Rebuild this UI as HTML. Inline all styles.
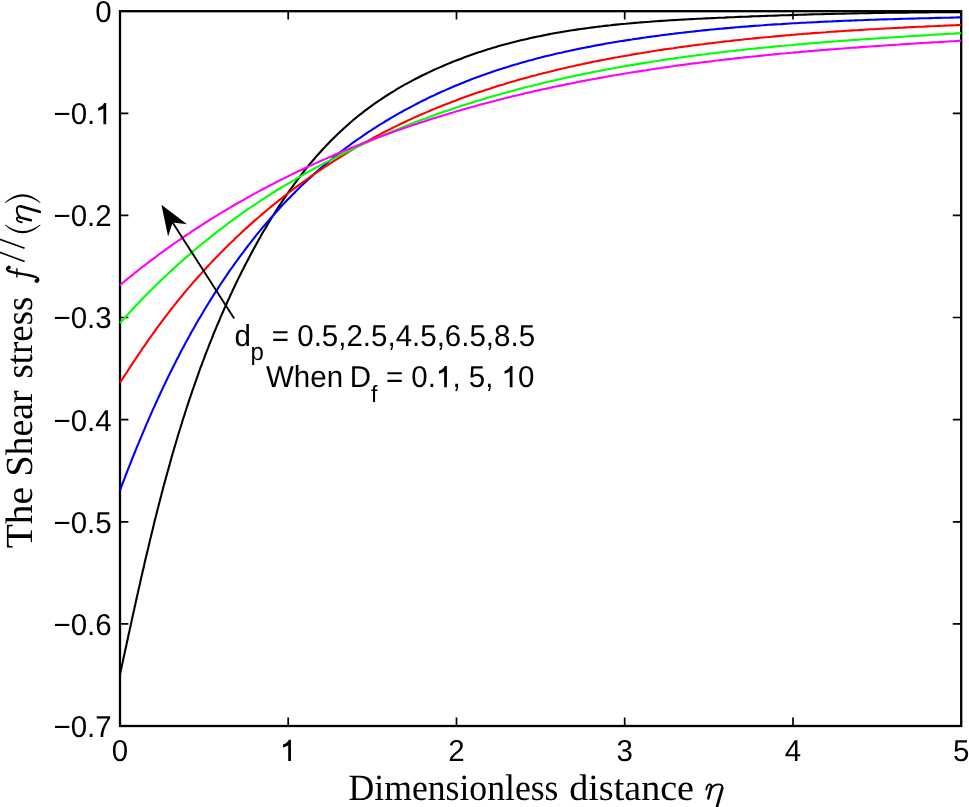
<!DOCTYPE html>
<html><head><meta charset="utf-8"><style>
html,body{margin:0;padding:0;background:#fff;overflow:hidden;}
svg{display:block;text-rendering:geometricPrecision;will-change:transform;}
.s{font-family:"Liberation Sans",sans-serif;fill:#000;}
.lab{font-family:"Liberation Serif",serif;fill:#000;}
</style></head><body>
<svg width="969" height="807" viewBox="0 0 969 807">
<rect x="0" y="0" width="969" height="807" fill="#fff"/>
<path d="M288.2,726.0 V717.6 M288.2,11.2 V19.6 M456.5,726.0 V717.6 M456.5,11.2 V19.6 M624.7,726.0 V717.6 M624.7,11.2 V19.6 M793.0,726.0 V717.6 M793.0,11.2 V19.6 M120.0,113.3 H128.4 M961.2,113.3 H952.8 M120.0,215.4 H128.4 M961.2,215.4 H952.8 M120.0,317.5 H128.4 M961.2,317.5 H952.8 M120.0,419.7 H128.4 M961.2,419.7 H952.8 M120.0,521.8 H128.4 M961.2,521.8 H952.8 M120.0,623.9 H128.4 M961.2,623.9 H952.8" stroke="#000" stroke-width="1.7" fill="none"/>
<rect x="120.0" y="11.2" width="841.2" height="714.8" fill="none" stroke="#000" stroke-width="2.3"/>
<g fill="none" stroke-width="2.1" stroke-linejoin="round">
<path d="M120.0,674.2 L120.6,671.3 L121.3,668.4 L121.9,665.5 L122.6,662.5 L123.2,659.6 L123.8,656.7 L124.5,653.7 L125.1,650.8 L125.7,647.9 L126.4,644.9 L127.0,642.0 L127.7,639.1 L128.3,636.1 L128.9,633.2 L129.6,630.3 L130.2,627.3 L130.9,624.4 L131.5,621.5 L132.1,618.6 L132.8,615.6 L133.4,612.7 L134.1,609.8 L134.7,606.8 L135.4,603.9 L136.0,601.0 L136.7,598.1 L137.3,595.1 L138.0,592.2 L138.6,589.3 L139.3,586.4 L140.0,583.4 L140.6,580.5 L141.3,577.6 L141.9,574.7 L142.6,571.7 L143.3,568.8 L144.0,565.9 L144.6,563.0 L145.3,560.0 L146.0,557.1 L146.7,554.2 L147.4,551.3 L148.1,548.4 L148.8,545.5 L149.5,542.5 L150.1,539.6 L150.9,536.7 L151.6,533.8 L152.3,530.9 L153.0,528.0 L153.7,525.1 L154.4,522.1 L155.1,519.2 L155.9,516.3 L156.6,513.4 L157.3,510.5 L158.1,507.6 L158.8,504.7 L159.6,501.8 L160.3,498.9 L161.1,496.0 L161.8,493.1 L162.6,490.2 L163.3,487.3 L164.1,484.4 L164.9,481.5 L165.7,478.6 L166.5,475.7 L167.3,472.8 L168.1,470.0 L168.9,467.1 L169.7,464.2 L170.5,461.3 L171.3,458.4 L172.1,455.5 L172.9,452.7 L173.8,449.8 L174.6,446.9 L175.5,444.0 L176.3,441.2 L177.2,438.3 L178.0,435.4 L178.9,432.5 L179.8,429.7 L180.7,426.8 L181.6,424.0 L182.4,421.1 L183.3,418.2 L184.3,415.4 L185.2,412.5 L186.1,409.7 L187.0,406.8 L187.9,404.0 L188.9,401.2 L189.8,398.3 L190.8,395.5 L191.8,392.6 L192.7,389.8 L193.7,387.0 L194.7,384.1 L195.7,381.3 L196.7,378.5 L197.7,375.7 L198.7,372.9 L199.7,370.0 L200.7,367.2 L201.8,364.4 L202.8,361.6 L203.9,358.8 L204.9,356.0 L206.0,353.2 L207.1,350.4 L208.2,347.6 L209.2,344.8 L210.3,342.1 L211.5,339.3 L212.6,336.5 L213.7,333.7 L214.8,331.0 L216.0,328.2 L217.1,325.4 L218.3,322.7 L219.5,319.9 L220.6,317.2 L221.8,314.4 L223.0,311.7 L224.2,308.9 L225.5,306.2 L226.7,303.5 L227.9,300.7 L229.2,298.0 L230.4,295.3 L231.7,292.6 L232.9,289.9 L234.2,287.2 L235.5,284.5 L236.8,281.8 L238.1,279.1 L239.4,276.4 L240.8,273.7 L242.1,271.0 L243.5,268.4 L244.8,265.7 L246.2,263.0 L247.6,260.4 L249.0,257.7 L250.4,255.1 L251.8,252.4 L253.2,249.8 L254.6,247.2 L256.1,244.6 L257.5,241.9 L259.0,239.3 L260.5,236.7 L261.9,234.1 L263.4,231.5 L265.0,229.0 L266.5,226.4 L268.0,223.8 L269.6,221.3 L271.1,218.7 L272.7,216.2 L274.3,213.6 L275.9,211.1 L277.5,208.6 L279.1,206.1 L280.8,203.6 L282.4,201.1 L284.1,198.6 L285.8,196.1 L287.5,193.7 L289.2,191.2 L290.9,188.8 L292.7,186.3 L294.4,183.9 L296.2,181.5 L298.0,179.1 L299.8,176.8 L301.6,174.4 L303.5,172.0 L305.3,169.7 L307.2,167.4 L309.1,165.0 L311.0,162.7 L312.9,160.5 L314.9,158.2 L316.8,155.9 L318.8,153.7 L320.8,151.5 L322.8,149.3 L324.9,147.1 L326.9,144.9 L329.0,142.7 L331.1,140.6 L333.2,138.5 L335.3,136.4 L337.5,134.3 L339.6,132.2 L341.8,130.2 L344.0,128.2 L346.2,126.2 L348.5,124.2 L350.7,122.2 L353.0,120.3 L355.3,118.4 L357.6,116.5 L360.0,114.6 L362.3,112.8 L364.7,110.9 L367.1,109.1 L369.5,107.4 L371.9,105.6 L374.3,103.9 L376.8,102.2 L379.3,100.5 L381.7,98.8 L384.2,97.1 L386.8,95.5 L389.3,93.9 L391.8,92.3 L394.4,90.8 L396.9,89.2 L399.5,87.7 L402.1,86.2 L404.7,84.7 L407.3,83.3 L410.0,81.8 L412.6,80.4 L415.3,79.0 L417.9,77.7 L420.6,76.3 L423.3,75.0 L426.0,73.7 L428.7,72.4 L431.4,71.1 L434.1,69.8 L436.8,68.6 L439.6,67.4 L442.3,66.2 L445.1,65.0 L447.8,63.9 L450.6,62.7 L453.4,61.6 L456.2,60.5 L459.0,59.4 L461.8,58.4 L464.6,57.3 L467.4,56.3 L470.2,55.3 L473.0,54.3 L475.9,53.3 L478.7,52.3 L481.6,51.4 L484.4,50.5 L487.3,49.6 L490.1,48.7 L493.0,47.8 L495.9,47.0 L498.8,46.1 L501.6,45.3 L504.5,44.5 L507.4,43.7 L510.3,43.0 L513.2,42.2 L516.1,41.5 L519.0,40.8 L522.0,40.1 L524.9,39.4 L527.8,38.7 L530.7,38.0 L533.7,37.4 L536.6,36.8 L539.5,36.2 L542.5,35.6 L545.4,35.0 L548.3,34.4 L551.3,33.8 L554.2,33.3 L557.2,32.8 L560.2,32.3 L563.1,31.8 L566.1,31.3 L569.0,30.8 L572.0,30.3 L575.0,29.9 L577.9,29.4 L580.9,29.0 L583.9,28.6 L586.8,28.2 L589.8,27.8 L592.8,27.4 L595.8,27.0 L598.7,26.6 L601.7,26.3 L604.7,25.9 L607.7,25.6 L610.6,25.3 L613.6,24.9 L616.6,24.6 L619.6,24.3 L622.6,24.0 L625.6,23.8 L628.6,23.5 L631.5,23.2 L634.5,22.9 L637.5,22.7 L640.5,22.4 L643.5,22.2 L646.5,22.0 L649.5,21.8 L652.5,21.5 L655.5,21.3 L658.5,21.1 L661.5,20.9 L664.4,20.7 L667.4,20.5 L670.4,20.3 L673.4,20.1 L676.4,20.0 L679.4,19.8 L682.4,19.6 L685.4,19.5 L688.4,19.3 L691.4,19.1 L694.4,19.0 L697.4,18.8 L700.4,18.7 L703.4,18.5 L706.4,18.4 L709.4,18.3 L712.4,18.1 L715.4,18.0 L718.4,17.8 L721.4,17.7 L724.4,17.6 L727.4,17.4 L730.4,17.3 L733.4,17.2 L736.4,17.0 L739.3,16.9 L742.3,16.8 L745.3,16.7 L748.3,16.6 L751.3,16.4 L754.3,16.3 L757.3,16.2 L760.3,16.1 L763.3,16.0 L766.3,15.9 L769.3,15.8 L772.3,15.7 L775.3,15.6 L778.3,15.5 L781.3,15.3 L784.3,15.2 L787.3,15.2 L790.3,15.1 L793.3,15.0 L796.3,14.9 L799.3,14.8 L802.3,14.7 L805.3,14.6 L808.3,14.5 L811.3,14.4 L814.3,14.3 L817.3,14.3 L820.3,14.2 L823.3,14.1 L826.3,14.0 L829.3,14.0 L832.3,13.9 L835.3,13.8 L838.3,13.7 L841.3,13.7 L844.3,13.6 L847.3,13.5 L850.3,13.5 L853.3,13.4 L856.3,13.4 L859.3,13.3 L862.3,13.2 L865.3,13.2 L868.3,13.1 L871.3,13.1 L874.3,13.0 L877.3,13.0 L880.3,12.9 L883.3,12.9 L886.3,12.8 L889.3,12.8 L892.3,12.8 L895.3,12.7 L898.3,12.7 L901.3,12.6 L904.3,12.6 L907.3,12.6 L910.3,12.5 L913.3,12.5 L916.3,12.5 L919.3,12.4 L922.3,12.4 L925.3,12.4 L928.3,12.4 L931.3,12.3 L934.3,12.3 L937.3,12.3 L940.3,12.3 L943.3,12.3 L946.3,12.2 L949.3,12.2 L952.3,12.2 L955.3,12.2 L958.3,12.2 L961.2,12.2" stroke="#000"/>
<path d="M120.0,490.3 L121.1,487.5 L122.1,484.7 L123.2,481.9 L124.3,479.1 L125.3,476.3 L126.4,473.5 L127.5,470.7 L128.6,467.9 L129.7,465.1 L130.8,462.3 L131.9,459.5 L133.0,456.7 L134.1,454.0 L135.3,451.2 L136.4,448.4 L137.5,445.6 L138.7,442.9 L139.8,440.1 L141.0,437.3 L142.1,434.6 L143.3,431.8 L144.5,429.1 L145.6,426.3 L146.8,423.6 L148.0,420.8 L149.2,418.1 L150.4,415.3 L151.6,412.6 L152.8,409.8 L154.1,407.1 L155.3,404.4 L156.5,401.7 L157.8,398.9 L159.0,396.2 L160.3,393.5 L161.6,390.8 L162.8,388.1 L164.1,385.4 L165.4,382.7 L166.7,380.0 L168.0,377.3 L169.3,374.6 L170.6,371.9 L172.0,369.2 L173.3,366.5 L174.7,363.9 L176.0,361.2 L177.4,358.5 L178.8,355.9 L180.1,353.2 L181.5,350.6 L182.9,347.9 L184.3,345.3 L185.8,342.6 L187.2,340.0 L188.6,337.4 L190.1,334.8 L191.5,332.1 L193.0,329.5 L194.5,326.9 L195.9,324.3 L197.4,321.7 L198.9,319.1 L200.5,316.6 L202.0,314.0 L203.5,311.4 L205.1,308.8 L206.6,306.3 L208.2,303.7 L209.7,301.2 L211.3,298.6 L212.9,296.1 L214.5,293.6 L216.1,291.1 L217.8,288.6 L219.4,286.0 L221.0,283.5 L222.7,281.1 L224.4,278.6 L226.1,276.1 L227.7,273.6 L229.4,271.2 L231.2,268.7 L232.9,266.3 L234.6,263.8 L236.4,261.4 L238.1,259.0 L239.9,256.6 L241.7,254.1 L243.5,251.8 L245.3,249.4 L247.1,247.0 L248.9,244.6 L250.8,242.3 L252.6,239.9 L254.5,237.6 L256.3,235.2 L258.2,232.9 L260.1,230.6 L262.0,228.3 L264.0,226.0 L265.9,223.7 L267.9,221.4 L269.8,219.2 L271.8,216.9 L273.8,214.7 L275.8,212.5 L277.8,210.2 L279.8,208.0 L281.8,205.8 L283.9,203.6 L285.9,201.5 L288.0,199.3 L290.1,197.2 L292.2,195.0 L294.3,192.9 L296.4,190.8 L298.5,188.7 L300.7,186.6 L302.8,184.5 L305.0,182.5 L307.2,180.4 L309.4,178.4 L311.6,176.4 L313.8,174.3 L316.0,172.4 L318.3,170.4 L320.5,168.4 L322.8,166.5 L325.1,164.5 L327.4,162.6 L329.7,160.7 L332.0,158.8 L334.4,156.9 L336.7,155.0 L339.1,153.2 L341.4,151.4 L343.8,149.6 L346.2,147.7 L348.6,146.0 L351.0,144.2 L353.4,142.4 L355.9,140.7 L358.3,139.0 L360.8,137.3 L363.2,135.6 L365.7,133.9 L368.2,132.2 L370.7,130.6 L373.2,128.9 L375.7,127.3 L378.3,125.7 L380.8,124.1 L383.4,122.6 L385.9,121.0 L388.5,119.5 L391.1,117.9 L393.7,116.4 L396.3,114.9 L398.9,113.4 L401.5,112.0 L404.1,110.5 L406.7,109.1 L409.4,107.7 L412.0,106.3 L414.7,104.9 L417.3,103.5 L420.0,102.1 L422.7,100.8 L425.4,99.5 L428.0,98.1 L430.7,96.8 L433.5,95.6 L436.2,94.3 L438.9,93.0 L441.6,91.8 L444.4,90.6 L447.1,89.4 L449.8,88.2 L452.6,87.0 L455.4,85.8 L458.1,84.7 L460.9,83.5 L463.7,82.4 L466.5,81.3 L469.3,80.2 L472.1,79.1 L474.9,78.1 L477.7,77.0 L480.5,76.0 L483.3,75.0 L486.1,74.0 L489.0,73.0 L491.8,72.0 L494.6,71.1 L497.5,70.1 L500.3,69.2 L503.2,68.3 L506.0,67.4 L508.9,66.5 L511.8,65.6 L514.6,64.7 L517.5,63.9 L520.4,63.1 L523.3,62.2 L526.2,61.4 L529.1,60.6 L532.0,59.9 L534.9,59.1 L537.8,58.3 L540.7,57.6 L543.6,56.8 L546.5,56.1 L549.4,55.4 L552.3,54.7 L555.2,54.0 L558.1,53.3 L561.1,52.7 L564.0,52.0 L566.9,51.4 L569.9,50.7 L572.8,50.1 L575.7,49.5 L578.7,48.9 L581.6,48.3 L584.5,47.7 L587.5,47.1 L590.4,46.6 L593.4,46.0 L596.3,45.4 L599.3,44.9 L602.2,44.4 L605.2,43.8 L608.1,43.3 L611.1,42.8 L614.1,42.3 L617.0,41.8 L620.0,41.3 L622.9,40.9 L625.9,40.4 L628.9,39.9 L631.8,39.5 L634.8,39.0 L637.8,38.6 L640.7,38.1 L643.7,37.7 L646.7,37.3 L649.6,36.9 L652.6,36.5 L655.6,36.1 L658.5,35.7 L661.5,35.3 L664.5,34.9 L667.5,34.5 L670.4,34.1 L673.4,33.8 L676.4,33.4 L679.4,33.0 L682.4,32.7 L685.3,32.4 L688.3,32.0 L691.3,31.7 L694.3,31.4 L697.3,31.0 L700.3,30.7 L703.2,30.4 L706.2,30.1 L709.2,29.8 L712.2,29.5 L715.2,29.2 L718.2,28.9 L721.1,28.7 L724.1,28.4 L727.1,28.1 L730.1,27.9 L733.1,27.6 L736.1,27.3 L739.1,27.1 L742.1,26.8 L745.1,26.6 L748.0,26.4 L751.0,26.1 L754.0,25.9 L757.0,25.7 L760.0,25.5 L763.0,25.3 L766.0,25.0 L769.0,24.8 L772.0,24.6 L775.0,24.4 L778.0,24.2 L781.0,24.1 L784.0,23.9 L787.0,23.7 L789.9,23.5 L792.9,23.3 L795.9,23.2 L798.9,23.0 L801.9,22.8 L804.9,22.7 L807.9,22.5 L810.9,22.4 L813.9,22.2 L816.9,22.1 L819.9,21.9 L822.9,21.8 L825.9,21.6 L828.9,21.5 L831.9,21.4 L834.9,21.2 L837.9,21.1 L840.9,21.0 L843.9,20.8 L846.9,20.7 L849.9,20.6 L852.9,20.5 L855.9,20.4 L858.9,20.3 L861.9,20.2 L864.9,20.0 L867.9,19.9 L870.9,19.8 L873.9,19.7 L876.9,19.6 L879.9,19.5 L882.9,19.4 L885.9,19.4 L888.9,19.3 L891.9,19.2 L894.8,19.1 L897.8,19.0 L900.8,18.9 L903.8,18.8 L906.8,18.7 L909.8,18.6 L912.8,18.6 L915.8,18.5 L918.8,18.4 L921.8,18.3 L924.8,18.2 L927.8,18.2 L930.8,18.1 L933.8,18.0 L936.8,17.9 L939.8,17.9 L942.8,17.8 L945.8,17.7 L948.8,17.7 L951.8,17.6 L954.8,17.5 L957.8,17.4 L960.8,17.4 L961.2,17.4" stroke="#0000ff"/>
<path d="M120.0,382.7 L121.6,380.2 L123.2,377.7 L124.9,375.2 L126.5,372.7 L128.1,370.2 L129.8,367.7 L131.4,365.1 L133.1,362.6 L134.7,360.2 L136.4,357.7 L138.1,355.2 L139.8,352.7 L141.4,350.2 L143.1,347.7 L144.8,345.3 L146.5,342.8 L148.2,340.3 L150.0,337.9 L151.7,335.5 L153.4,333.0 L155.2,330.6 L156.9,328.2 L158.7,325.7 L160.5,323.3 L162.3,320.9 L164.0,318.5 L165.9,316.1 L167.7,313.8 L169.5,311.4 L171.3,309.0 L173.2,306.7 L175.0,304.3 L176.9,302.0 L178.8,299.7 L180.7,297.3 L182.6,295.0 L184.5,292.7 L186.4,290.4 L188.3,288.1 L190.3,285.9 L192.2,283.6 L194.2,281.3 L196.2,279.1 L198.2,276.8 L200.2,274.6 L202.2,272.4 L204.2,270.2 L206.2,268.0 L208.2,265.8 L210.3,263.6 L212.3,261.4 L214.4,259.2 L216.5,257.1 L218.6,254.9 L220.7,252.8 L222.8,250.7 L224.9,248.5 L227.0,246.4 L229.2,244.3 L231.3,242.2 L233.5,240.2 L235.6,238.1 L237.8,236.0 L240.0,234.0 L242.2,231.9 L244.4,229.9 L246.6,227.9 L248.8,225.9 L251.0,223.9 L253.3,221.9 L255.5,219.9 L257.8,218.0 L260.1,216.0 L262.3,214.1 L264.6,212.1 L266.9,210.2 L269.2,208.3 L271.5,206.4 L273.8,204.5 L276.2,202.6 L278.5,200.7 L280.9,198.9 L283.2,197.0 L285.6,195.2 L288.0,193.3 L290.3,191.5 L292.7,189.7 L295.1,187.9 L297.5,186.1 L299.9,184.3 L302.4,182.6 L304.8,180.8 L307.2,179.1 L309.7,177.4 L312.1,175.6 L314.6,173.9 L317.1,172.2 L319.5,170.6 L322.0,168.9 L324.5,167.2 L327.0,165.6 L329.5,163.9 L332.0,162.3 L334.6,160.7 L337.1,159.1 L339.6,157.5 L342.2,155.9 L344.7,154.3 L347.3,152.8 L349.9,151.2 L352.4,149.7 L355.0,148.2 L357.6,146.7 L360.2,145.2 L362.8,143.7 L365.4,142.2 L368.0,140.8 L370.7,139.3 L373.3,137.9 L375.9,136.5 L378.6,135.1 L381.2,133.7 L383.9,132.3 L386.6,130.9 L389.2,129.6 L391.9,128.2 L394.6,126.9 L397.3,125.6 L400.0,124.3 L402.7,123.0 L405.4,121.7 L408.1,120.4 L410.8,119.2 L413.6,117.9 L416.3,116.7 L419.0,115.5 L421.8,114.3 L424.5,113.1 L427.3,111.9 L430.0,110.7 L432.8,109.6 L435.6,108.4 L438.4,107.3 L441.1,106.2 L443.9,105.1 L446.7,104.0 L449.5,102.9 L452.3,101.8 L455.1,100.7 L457.9,99.7 L460.7,98.6 L463.5,97.6 L466.4,96.6 L469.2,95.6 L472.0,94.6 L474.9,93.6 L477.7,92.6 L480.5,91.7 L483.4,90.7 L486.2,89.8 L489.1,88.9 L491.9,87.9 L494.8,87.0 L497.6,86.1 L500.5,85.2 L503.4,84.4 L506.2,83.5 L509.1,82.6 L512.0,81.8 L514.9,81.0 L517.8,80.1 L520.6,79.3 L523.5,78.5 L526.4,77.7 L529.3,76.9 L532.2,76.1 L535.1,75.4 L538.0,74.6 L540.9,73.9 L543.8,73.1 L546.7,72.4 L549.6,71.7 L552.5,70.9 L555.5,70.2 L558.4,69.5 L561.3,68.8 L564.2,68.2 L567.1,67.5 L570.1,66.8 L573.0,66.2 L575.9,65.5 L578.9,64.9 L581.8,64.3 L584.7,63.6 L587.7,63.0 L590.6,62.4 L593.5,61.8 L596.5,61.2 L599.4,60.6 L602.4,60.0 L605.3,59.5 L608.2,58.9 L611.2,58.4 L614.1,57.8 L617.1,57.3 L620.0,56.7 L623.0,56.2 L625.9,55.7 L628.9,55.2 L631.9,54.6 L634.8,54.1 L637.8,53.6 L640.7,53.2 L643.7,52.7 L646.7,52.2 L649.6,51.7 L652.6,51.3 L655.5,50.8 L658.5,50.3 L661.5,49.9 L664.4,49.4 L667.4,49.0 L670.4,48.6 L673.3,48.2 L676.3,47.7 L679.3,47.3 L682.3,46.9 L685.2,46.5 L688.2,46.1 L691.2,45.7 L694.1,45.3 L697.1,44.9 L700.1,44.5 L703.1,44.2 L706.1,43.8 L709.0,43.4 L712.0,43.1 L715.0,42.7 L718.0,42.3 L720.9,42.0 L723.9,41.6 L726.9,41.3 L729.9,41.0 L732.9,40.6 L735.8,40.3 L738.8,40.0 L741.8,39.7 L744.8,39.3 L747.8,39.0 L750.8,38.7 L753.7,38.4 L756.7,38.1 L759.7,37.8 L762.7,37.5 L765.7,37.2 L768.7,37.0 L771.7,36.7 L774.6,36.4 L777.6,36.1 L780.6,35.9 L783.6,35.6 L786.6,35.3 L789.6,35.1 L792.6,34.8 L795.6,34.6 L798.6,34.3 L801.5,34.1 L804.5,33.8 L807.5,33.6 L810.5,33.4 L813.5,33.1 L816.5,32.9 L819.5,32.7 L822.5,32.5 L825.5,32.3 L828.5,32.0 L831.5,31.8 L834.5,31.6 L837.4,31.4 L840.4,31.2 L843.4,31.0 L846.4,30.8 L849.4,30.6 L852.4,30.4 L855.4,30.2 L858.4,30.1 L861.4,29.9 L864.4,29.7 L867.4,29.5 L870.4,29.3 L873.4,29.2 L876.4,29.0 L879.4,28.8 L882.4,28.7 L885.4,28.5 L888.4,28.3 L891.3,28.2 L894.3,28.0 L897.3,27.9 L900.3,27.7 L903.3,27.6 L906.3,27.4 L909.3,27.3 L912.3,27.1 L915.3,27.0 L918.3,26.8 L921.3,26.7 L924.3,26.6 L927.3,26.4 L930.3,26.3 L933.3,26.2 L936.3,26.0 L939.3,25.9 L942.3,25.8 L945.3,25.6 L948.3,25.5 L951.3,25.4 L954.3,25.3 L957.3,25.1 L960.3,25.0 L961.2,25.0" stroke="#ff0000"/>
<path d="M120.0,323.0 L122.0,320.8 L124.0,318.5 L126.0,316.3 L128.0,314.1 L130.1,311.9 L132.1,309.7 L134.1,307.5 L136.2,305.3 L138.3,303.2 L140.3,301.0 L142.4,298.8 L144.5,296.7 L146.6,294.6 L148.7,292.4 L150.8,290.3 L153.0,288.2 L155.1,286.1 L157.2,284.0 L159.4,281.9 L161.5,279.8 L163.7,277.8 L165.9,275.7 L168.1,273.7 L170.3,271.6 L172.5,269.6 L174.7,267.6 L176.9,265.5 L179.1,263.5 L181.3,261.5 L183.6,259.6 L185.8,257.6 L188.1,255.6 L190.4,253.7 L192.6,251.7 L194.9,249.8 L197.2,247.8 L199.5,245.9 L201.8,244.0 L204.1,242.1 L206.5,240.2 L208.8,238.4 L211.1,236.5 L213.5,234.6 L215.9,232.8 L218.2,230.9 L220.6,229.1 L223.0,227.3 L225.4,225.5 L227.8,223.7 L230.2,221.9 L232.6,220.1 L235.0,218.4 L237.4,216.6 L239.9,214.9 L242.3,213.2 L244.8,211.4 L247.2,209.7 L249.7,208.0 L252.2,206.3 L254.7,204.7 L257.2,203.0 L259.7,201.3 L262.2,199.7 L264.7,198.1 L267.2,196.4 L269.7,194.8 L272.2,193.2 L274.8,191.6 L277.3,190.0 L279.9,188.5 L282.4,186.9 L285.0,185.4 L287.6,183.8 L290.2,182.3 L292.7,180.8 L295.3,179.3 L297.9,177.8 L300.5,176.3 L303.1,174.8 L305.7,173.3 L308.4,171.9 L311.0,170.4 L313.6,169.0 L316.2,167.5 L318.9,166.1 L321.5,164.7 L324.2,163.3 L326.8,161.9 L329.5,160.6 L332.2,159.2 L334.8,157.8 L337.5,156.5 L340.2,155.1 L342.9,153.8 L345.6,152.5 L348.3,151.2 L351.0,149.9 L353.7,148.6 L356.4,147.3 L359.1,146.0 L361.8,144.8 L364.6,143.5 L367.3,142.3 L370.0,141.1 L372.8,139.8 L375.5,138.6 L378.2,137.4 L381.0,136.2 L383.7,135.0 L386.5,133.9 L389.3,132.7 L392.0,131.5 L394.8,130.4 L397.6,129.3 L400.4,128.1 L403.1,127.0 L405.9,125.9 L408.7,124.8 L411.5,123.7 L414.3,122.6 L417.1,121.6 L419.9,120.5 L422.7,119.4 L425.5,118.4 L428.3,117.4 L431.2,116.3 L434.0,115.3 L436.8,114.3 L439.6,113.3 L442.5,112.3 L445.3,111.3 L448.1,110.4 L451.0,109.4 L453.8,108.5 L456.7,107.5 L459.5,106.6 L462.4,105.6 L465.2,104.7 L468.1,103.8 L470.9,102.9 L473.8,102.0 L476.7,101.1 L479.5,100.3 L482.4,99.4 L485.3,98.5 L488.1,97.7 L491.0,96.8 L493.9,96.0 L496.8,95.2 L499.7,94.4 L502.6,93.5 L505.5,92.7 L508.3,91.9 L511.2,91.2 L514.1,90.4 L517.0,89.6 L519.9,88.8 L522.8,88.1 L525.7,87.3 L528.6,86.6 L531.6,85.9 L534.5,85.1 L537.4,84.4 L540.3,83.7 L543.2,83.0 L546.1,82.3 L549.0,81.6 L552.0,80.9 L554.9,80.3 L557.8,79.6 L560.7,78.9 L563.7,78.3 L566.6,77.6 L569.5,77.0 L572.4,76.4 L575.4,75.7 L578.3,75.1 L581.3,74.5 L584.2,73.9 L587.1,73.3 L590.1,72.7 L593.0,72.1 L596.0,71.5 L598.9,71.0 L601.8,70.4 L604.8,69.8 L607.7,69.3 L610.7,68.7 L613.6,68.2 L616.6,67.7 L619.5,67.1 L622.5,66.6 L625.5,66.1 L628.4,65.6 L631.4,65.1 L634.3,64.6 L637.3,64.1 L640.2,63.6 L643.2,63.1 L646.2,62.6 L649.1,62.2 L652.1,61.7 L655.0,61.2 L658.0,60.8 L661.0,60.3 L663.9,59.9 L666.9,59.4 L669.9,59.0 L672.9,58.6 L675.8,58.1 L678.8,57.7 L681.8,57.3 L684.7,56.9 L687.7,56.5 L690.7,56.1 L693.7,55.7 L696.6,55.3 L699.6,54.9 L702.6,54.5 L705.6,54.2 L708.5,53.8 L711.5,53.4 L714.5,53.1 L717.5,52.7 L720.4,52.3 L723.4,52.0 L726.4,51.6 L729.4,51.3 L732.4,51.0 L735.3,50.6 L738.3,50.3 L741.3,50.0 L744.3,49.6 L747.3,49.3 L750.3,49.0 L753.2,48.7 L756.2,48.4 L759.2,48.1 L762.2,47.8 L765.2,47.5 L768.2,47.2 L771.1,46.9 L774.1,46.6 L777.1,46.3 L780.1,46.0 L783.1,45.8 L786.1,45.5 L789.1,45.2 L792.1,45.0 L795.0,44.7 L798.0,44.4 L801.0,44.2 L804.0,43.9 L807.0,43.7 L810.0,43.4 L813.0,43.2 L816.0,42.9 L819.0,42.7 L821.9,42.4 L824.9,42.2 L827.9,41.9 L830.9,41.7 L833.9,41.5 L836.9,41.3 L839.9,41.0 L842.9,40.8 L845.9,40.6 L848.9,40.4 L851.9,40.1 L854.8,39.9 L857.8,39.7 L860.8,39.5 L863.8,39.3 L866.8,39.1 L869.8,38.9 L872.8,38.7 L875.8,38.5 L878.8,38.3 L881.8,38.1 L884.8,37.9 L887.8,37.7 L890.8,37.5 L893.8,37.3 L896.8,37.1 L899.7,36.9 L902.7,36.7 L905.7,36.5 L908.7,36.3 L911.7,36.1 L914.7,35.9 L917.7,35.7 L920.7,35.6 L923.7,35.4 L926.7,35.2 L929.7,35.0 L932.7,34.8 L935.7,34.6 L938.7,34.5 L941.7,34.3 L944.7,34.1 L947.7,33.9 L950.6,33.7 L953.6,33.6 L956.6,33.4 L959.6,33.2 L961.2,33.1" stroke="#00ff00"/>
<path d="M120.0,285.2 L122.3,283.2 L124.6,281.3 L126.9,279.4 L129.2,277.5 L131.6,275.6 L133.9,273.8 L136.2,271.9 L138.6,270.0 L140.9,268.2 L143.3,266.3 L145.7,264.5 L148.1,262.7 L150.4,260.9 L152.8,259.1 L155.2,257.3 L157.6,255.5 L160.1,253.7 L162.5,251.9 L164.9,250.2 L167.3,248.4 L169.8,246.7 L172.2,244.9 L174.7,243.2 L177.1,241.5 L179.6,239.8 L182.1,238.1 L184.5,236.4 L187.0,234.7 L189.5,233.1 L192.0,231.4 L194.5,229.7 L197.0,228.1 L199.5,226.5 L202.0,224.8 L204.6,223.2 L207.1,221.6 L209.6,220.0 L212.2,218.4 L214.7,216.9 L217.3,215.3 L219.8,213.7 L222.4,212.2 L225.0,210.6 L227.5,209.1 L230.1,207.6 L232.7,206.0 L235.3,204.5 L237.9,203.0 L240.5,201.6 L243.1,200.1 L245.7,198.6 L248.3,197.1 L250.9,195.7 L253.6,194.2 L256.2,192.8 L258.8,191.4 L261.5,190.0 L264.1,188.5 L266.8,187.1 L269.4,185.8 L272.1,184.4 L274.7,183.0 L277.4,181.6 L280.1,180.3 L282.8,178.9 L285.5,177.6 L288.1,176.3 L290.8,174.9 L293.5,173.6 L296.2,172.3 L298.9,171.0 L301.6,169.7 L304.3,168.5 L307.1,167.2 L309.8,165.9 L312.5,164.7 L315.2,163.4 L318.0,162.2 L320.7,161.0 L323.4,159.8 L326.2,158.6 L328.9,157.4 L331.7,156.2 L334.4,155.0 L337.2,153.8 L340.0,152.6 L342.7,151.5 L345.5,150.3 L348.3,149.2 L351.0,148.0 L353.8,146.9 L356.6,145.8 L359.4,144.7 L362.2,143.6 L365.0,142.5 L367.8,141.4 L370.6,140.3 L373.4,139.3 L376.2,138.2 L379.0,137.1 L381.8,136.1 L384.6,135.1 L387.4,134.0 L390.2,133.0 L393.1,132.0 L395.9,131.0 L398.7,130.0 L401.5,129.0 L404.4,128.0 L407.2,127.0 L410.1,126.1 L412.9,125.1 L415.7,124.2 L418.6,123.2 L421.4,122.3 L424.3,121.4 L427.1,120.4 L430.0,119.5 L432.9,118.6 L435.7,117.7 L438.6,116.8 L441.4,115.9 L444.3,115.1 L447.2,114.2 L450.1,113.3 L452.9,112.5 L455.8,111.6 L458.7,110.8 L461.6,109.9 L464.4,109.1 L467.3,108.3 L470.2,107.5 L473.1,106.7 L476.0,105.9 L478.9,105.1 L481.8,104.3 L484.7,103.5 L487.6,102.7 L490.5,102.0 L493.4,101.2 L496.3,100.5 L499.2,99.7 L502.1,99.0 L505.0,98.3 L507.9,97.5 L510.8,96.8 L513.7,96.1 L516.7,95.4 L519.6,94.7 L522.5,94.0 L525.4,93.3 L528.3,92.6 L531.3,92.0 L534.2,91.3 L537.1,90.6 L540.0,90.0 L543.0,89.3 L545.9,88.7 L548.8,88.1 L551.8,87.4 L554.7,86.8 L557.6,86.2 L560.6,85.6 L563.5,85.0 L566.4,84.4 L569.4,83.8 L572.3,83.2 L575.3,82.6 L578.2,82.0 L581.1,81.4 L584.1,80.9 L587.0,80.3 L590.0,79.8 L592.9,79.2 L595.9,78.7 L598.8,78.1 L601.8,77.6 L604.7,77.1 L607.7,76.5 L610.6,76.0 L613.6,75.5 L616.6,75.0 L619.5,74.5 L622.5,74.0 L625.4,73.5 L628.4,73.0 L631.3,72.5 L634.3,72.0 L637.3,71.6 L640.2,71.1 L643.2,70.6 L646.2,70.2 L649.1,69.7 L652.1,69.3 L655.1,68.8 L658.0,68.4 L661.0,68.0 L664.0,67.5 L666.9,67.1 L669.9,66.7 L672.9,66.3 L675.8,65.8 L678.8,65.4 L681.8,65.0 L684.8,64.6 L687.7,64.2 L690.7,63.8 L693.7,63.4 L696.7,63.1 L699.6,62.7 L702.6,62.3 L705.6,61.9 L708.6,61.6 L711.5,61.2 L714.5,60.8 L717.5,60.5 L720.5,60.1 L723.5,59.8 L726.4,59.4 L729.4,59.1 L732.4,58.8 L735.4,58.4 L738.4,58.1 L741.3,57.8 L744.3,57.4 L747.3,57.1 L750.3,56.8 L753.3,56.5 L756.3,56.2 L759.2,55.9 L762.2,55.6 L765.2,55.3 L768.2,55.0 L771.2,54.7 L774.2,54.4 L777.2,54.1 L780.1,53.8 L783.1,53.5 L786.1,53.3 L789.1,53.0 L792.1,52.7 L795.1,52.4 L798.1,52.2 L801.1,51.9 L804.0,51.6 L807.0,51.4 L810.0,51.1 L813.0,50.9 L816.0,50.6 L819.0,50.4 L822.0,50.1 L825.0,49.9 L828.0,49.6 L830.9,49.4 L833.9,49.2 L836.9,48.9 L839.9,48.7 L842.9,48.5 L845.9,48.2 L848.9,48.0 L851.9,47.8 L854.9,47.6 L857.9,47.4 L860.9,47.1 L863.9,46.9 L866.8,46.7 L869.8,46.5 L872.8,46.3 L875.8,46.1 L878.8,45.9 L881.8,45.7 L884.8,45.5 L887.8,45.3 L890.8,45.1 L893.8,44.9 L896.8,44.7 L899.8,44.5 L902.8,44.3 L905.8,44.1 L908.8,43.9 L911.7,43.7 L914.7,43.5 L917.7,43.3 L920.7,43.1 L923.7,43.0 L926.7,42.8 L929.7,42.6 L932.7,42.4 L935.7,42.2 L938.7,42.1 L941.7,41.9 L944.7,41.7 L947.7,41.5 L950.7,41.3 L953.7,41.2 L956.7,41.0 L959.7,40.8 L961.2,40.7" stroke="#ff00ff"/>
</g>
<g class="s"><text transform="translate(95.24,22.10) scale(1,1.025)" font-size="29.5" xml:space="preserve">0</text><path d="M277,0 L371,0 L371,701 L300,701 C270,630 200,575 100,540 L100,445 C170,465 235,490 277,520 Z" transform="translate(95.24,124.21) scale(0.02950,-0.03024)"/><text transform="translate(53.41,124.21) scale(1,1.025)" font-size="29.5" xml:space="preserve">−0.&#8199;</text><text transform="translate(53.41,226.33) scale(1,1.025)" font-size="29.5" xml:space="preserve">−0.2</text><text transform="translate(53.41,328.44) scale(1,1.025)" font-size="29.5" xml:space="preserve">−0.3</text><text transform="translate(53.41,430.56) scale(1,1.025)" font-size="29.5" xml:space="preserve">−0.4</text><text transform="translate(53.41,532.67) scale(1,1.025)" font-size="29.5" xml:space="preserve">−0.5</text><text transform="translate(53.41,634.79) scale(1,1.025)" font-size="29.5" xml:space="preserve">−0.6</text><text transform="translate(53.41,736.90) scale(1,1.025)" font-size="29.5" xml:space="preserve">−0.7</text><text transform="translate(111.80,760.90) scale(1,1.025)" font-size="29.5" xml:space="preserve">0</text><path d="M277,0 L371,0 L371,701 L300,701 C270,630 200,575 100,540 L100,445 C170,465 235,490 277,520 Z" transform="translate(280.04,760.90) scale(0.02950,-0.03024)"/><text transform="translate(280.04,760.90) scale(1,1.025)" font-size="29.5" xml:space="preserve">&#8199;</text><text transform="translate(448.28,760.90) scale(1,1.025)" font-size="29.5" xml:space="preserve">2</text><text transform="translate(616.52,760.90) scale(1,1.025)" font-size="29.5" xml:space="preserve">3</text><text transform="translate(784.76,760.90) scale(1,1.025)" font-size="29.5" xml:space="preserve">4</text><text transform="translate(953.00,760.90) scale(1,1.025)" font-size="29.5" xml:space="preserve">5</text></g>
<text class="lab" transform="translate(348.57,799.7) scale(0.9634,1)" font-size="37">Dimensionless</text>
<text class="lab" transform="translate(569.22,799.7) scale(1.0295,1)" font-size="37">distance</text>
<g transform="translate(705.9,799.7)" fill="none" stroke="#000" stroke-linecap="round"><path d="M0.4,-10.2 C0.9,-13.2 2.5,-15.3 4.0,-15.3 C5.6,-15.3 5.6,-13.5 5.1,-11.8" stroke-width="1.8"/><path d="M5.1,-11.8 L2.4,-1.2" stroke-width="2.5"/><path d="M5.7,-11.9 C7.6,-14.3 10.0,-15.3 12.5,-15.3 C15.6,-15.3 16.8,-14.0 16.4,-11.5" stroke-width="1.9"/><path d="M16.4,-11.5 L10.9,7.6" stroke-width="2.7"/></g>
<g transform="translate(32.1,549.2) rotate(-90)">
<text class="lab" transform="translate(0.89,0) scale(1.031,1)" font-size="38.3">The</text>
<text class="lab" transform="translate(72.67,0) scale(0.987,1)" font-size="38.3">Shear</text>
<text class="lab" transform="translate(170.59,0) scale(0.964,1)" font-size="38.3">stress</text>
<g transform="translate(326.5,0)" fill="none" stroke="#000" stroke-linecap="round"><path d="M0.4,-10.2 C0.9,-13.2 2.5,-15.3 4.0,-15.3 C5.6,-15.3 5.6,-13.5 5.1,-11.8" stroke-width="1.8"/><path d="M5.1,-11.8 L2.4,-1.2" stroke-width="2.5"/><path d="M5.7,-11.9 C7.6,-14.3 10.0,-15.3 12.5,-15.3 C15.6,-15.3 16.8,-14.0 16.4,-11.5" stroke-width="1.9"/><path d="M16.4,-11.5 L10.9,7.6" stroke-width="2.7"/></g>
</g>
<g stroke="#000" stroke-width="1.6" fill="none">
<line x1="-2" y1="238.6" x2="24.6" y2="248.2"/>
<line x1="-2" y1="251.6" x2="24.6" y2="261.6"/>
</g>
<g fill="#000" stroke="none">
<path d="M5.0,202.3 Q22.8,186.0 40.4,202.3 L40.2,203.1 Q22.8,189.8 5.2,203.1 Z"/>
<path d="M5.0,225.2 Q22.8,241.4 40.4,225.2 L40.2,224.4 Q22.8,237.6 5.2,224.4 Z"/>
<circle cx="8.9" cy="267.4" r="1.9"/><circle cx="36.4" cy="280.9" r="1.9"/>
</g>
<g fill="none" stroke="#000" stroke-linecap="round">
<path d="M8.9,267.6 C6.6,267.6 6.2,269.6 8.6,270.9 C12,272.6 20,273.6 28,275 C35,276.3 38.6,277.6 38.3,279.8 C38.1,281.2 37.2,281.6 36.4,281.0" stroke-width="2.4"/>
<path d="M16.9,268.2 L16.9,277.6" stroke-width="1.4" stroke-linecap="butt"/>
</g>
<g stroke="#000" stroke-width="1.9" fill="#000">
<line x1="234.2" y1="318.5" x2="172.6" y2="222.5"/>
<path d="M161.4,204.7 L187.1,224.2 L172.6,222.5 L168.1,236.5 Z" stroke="none"/>
</g>
<g class="s">
<text transform="translate(234.40,345.70) scale(1,1.025)" font-size="29.5" xml:space="preserve">d</text><text transform="translate(250.60,360.30) scale(1,1.025)" font-size="24" xml:space="preserve">p</text><text transform="translate(271.80,345.70) scale(1,1.025)" font-size="29.5" xml:space="preserve">= 0.5,2.5,4.5,6.5,8.5</text>
<text transform="translate(266.00,387.30) scale(1,1.025)" font-size="29.5" xml:space="preserve">When</text><text transform="translate(349.80,387.30) scale(1,1.025)" font-size="29.5" xml:space="preserve">D</text><text transform="translate(370.90,401.80) scale(1,1.025)" font-size="23" xml:space="preserve">f</text><path d="M277,0 L371,0 L371,701 L300,701 C270,630 200,575 100,540 L100,445 C170,465 235,490 277,520 Z" transform="translate(435.98,387.30) scale(0.02950,-0.03024)"/><path d="M277,0 L371,0 L371,701 L300,701 C270,630 200,575 100,540 L100,445 C170,465 235,490 277,520 Z" transform="translate(501.57,387.30) scale(0.02950,-0.03024)"/><text transform="translate(385.95,387.30) scale(1,1.025)" font-size="29.5" xml:space="preserve">= 0.&#8199;, 5, &#8199;0</text>
</g>
</svg>
</body></html>
